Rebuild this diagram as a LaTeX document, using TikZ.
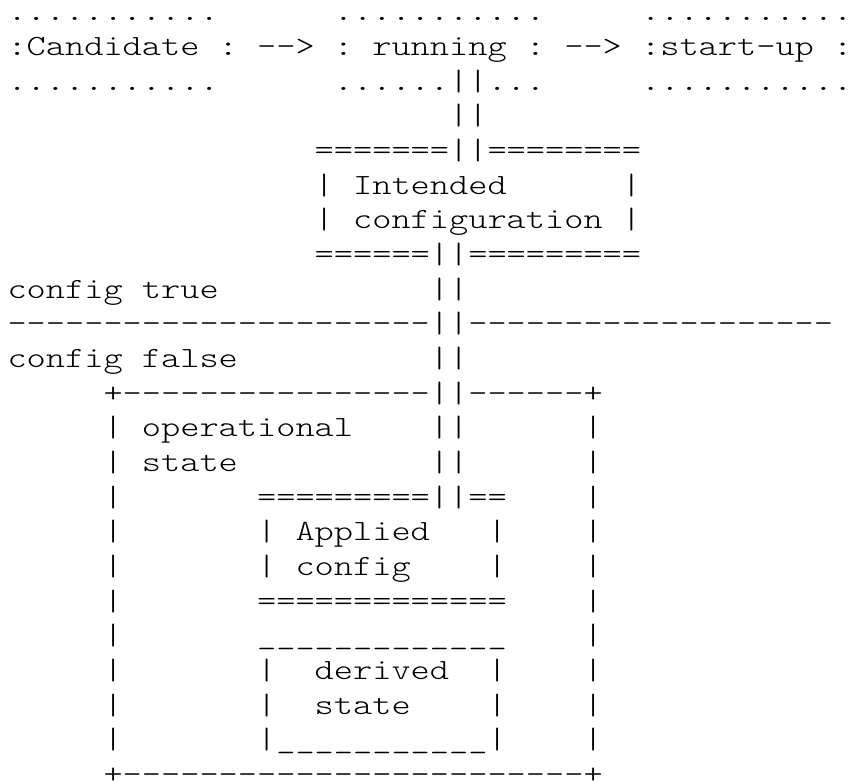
\documentclass[tikz,border=0pt]{standalone}
\usepackage{fontspec}
\setmonofont{lmmonolt10-regular.otf}[FakeStretch=1.2468]
\tikzset{asc/.style={anchor=base west, inner sep=0pt, outer sep=0pt, font=\ttfamily\fontsize{22pt}{26pt}\selectfont}}
\newcommand{\chunk}[4]{\node[asc] (#1) at ({7.5+19.2*#2},{-(21+34.65*#3)}) {#4};}
\begin{document}
\begin{tikzpicture}[x=0.75pt,y=0.75pt]
\useasboundingbox (0,0) rectangle (850,-781);
% line 0
\chunk{l0a}{0}{0}{...........}
\chunk{l0b}{17}{0}{...........}
\chunk{l0c}{33}{0}{...........}
% line 1
\chunk{cand}{0}{1}{:Candidate}
\chunk{l1b}{11}{1}{:}
\chunk{arr1}{13}{1}{-->}
\chunk{l1d}{17}{1}{:}
\chunk{run}{19}{1}{running}
\chunk{l1f}{27}{1}{:}
\chunk{arr2}{29}{1}{-->}
\chunk{start}{33}{1}{:start-up}
\chunk{l1i}{43}{1}{:}
% line 2
\chunk{l2a}{0}{2}{...........}
\chunk{l2b}{17}{2}{......||...}
\chunk{l2c}{33}{2}{...........}
% line 3
\chunk{l3}{23}{3}{||}
% intended configuration
\chunk{l4}{16}{4}{=======||========}
\chunk{l5a}{16}{5}{|}
\chunk{intended}{18}{5}{Intended}
\chunk{l5c}{32}{5}{|}
\chunk{l6a}{16}{6}{|}
\chunk{configuration}{18}{6}{configuration}
\chunk{l6c}{32}{6}{|}
\chunk{l7}{16}{7}{======||=========}
% config true / false
\chunk{l8a}{0}{8}{config}
\chunk{l8b}{7}{8}{true}
\chunk{l8c}{22}{8}{||}
\chunk{l9}{0}{9}{----------------------||-------------------}
\chunk{l10a}{0}{10}{config}
\chunk{l10b}{7}{10}{false}
\chunk{l10c}{22}{10}{||}
% operational state box
\chunk{l11}{5}{11}{+----------------||------+}
\chunk{l12a}{5}{12}{|}
\chunk{oper}{7}{12}{operational}
\chunk{l12c}{22}{12}{||}
\chunk{l12d}{30}{12}{|}
\chunk{l13a}{5}{13}{|}
\chunk{ostate}{7}{13}{state}
\chunk{l13c}{22}{13}{||}
\chunk{l13d}{30}{13}{|}
\chunk{l14a}{5}{14}{|}
\chunk{l14b}{13}{14}{=========||==}
\chunk{l14c}{30}{14}{|}
\chunk{l15a}{5}{15}{|}
\chunk{l15b}{13}{15}{|}
\chunk{applied}{15}{15}{Applied}
\chunk{l15d}{25}{15}{|}
\chunk{l15e}{30}{15}{|}
\chunk{l16a}{5}{16}{|}
\chunk{l16b}{13}{16}{|}
\chunk{aconfig}{15}{16}{config}
\chunk{l16d}{25}{16}{|}
\chunk{l16e}{30}{16}{|}
\chunk{l17a}{5}{17}{|}
\chunk{l17b}{13}{17}{=============}
\chunk{l17c}{30}{17}{|}
\chunk{l18a}{5}{18}{|}
\chunk{l18b}{13}{18}{\_\_\_\_\_\_\_\_\_\_\_\_\_}
\chunk{l18c}{30}{18}{|}
\chunk{l19a}{5}{19}{|}
\chunk{l19b}{13}{19}{|}
\chunk{derived}{16}{19}{derived}
\chunk{l19d}{25}{19}{|}
\chunk{l19e}{30}{19}{|}
\chunk{l20a}{5}{20}{|}
\chunk{l20b}{13}{20}{|}
\chunk{dstate}{16}{20}{state}
\chunk{l20d}{25}{20}{|}
\chunk{l20e}{30}{20}{|}
\chunk{l21a}{5}{21}{|}
\chunk{l21b}{13}{21}{|\_\_\_\_\_\_\_\_\_\_\_|}
\chunk{l21c}{30}{21}{|}
\chunk{l22}{5}{22}{+------------------------+}
\end{tikzpicture}
\end{document}
